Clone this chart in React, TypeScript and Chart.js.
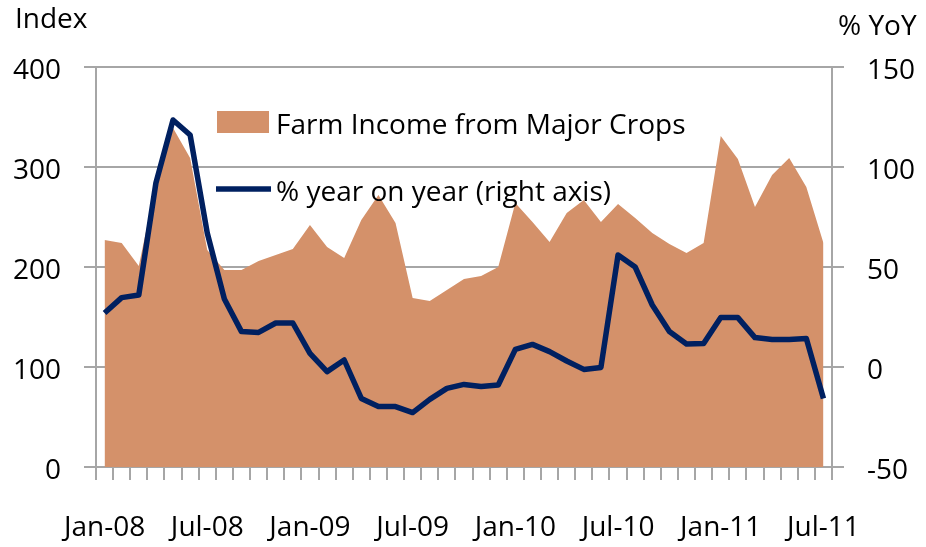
import React, { useEffect, useRef } from "react";
import { Chart, registerables } from "chart.js";

Chart.register(...registerables);

const months: string[] = [
  "Jan-08", "Feb-08", "Mar-08", "Apr-08", "May-08", "Jun-08", "Jul-08", "Aug-08", "Sep-08", "Oct-08", "Nov-08", "Dec-08",
  "Jan-09", "Feb-09", "Mar-09", "Apr-09", "May-09", "Jun-09", "Jul-09", "Aug-09", "Sep-09", "Oct-09", "Nov-09", "Dec-09",
  "Jan-10", "Feb-10", "Mar-10", "Apr-10", "May-10", "Jun-10", "Jul-10", "Aug-10", "Sep-10", "Oct-10", "Nov-10", "Dec-10",
  "Jan-11", "Feb-11", "Mar-11", "Apr-11", "May-11", "Jun-11", "Jul-11",
];

const farmIncome: number[] = [
  227, 224, 201, 283, 339, 309, 217, 197, 197, 206, 212, 218,
  242, 220, 209, 247, 272, 244, 169, 166, 177, 188, 191, 200,
  264, 245, 225, 254, 267, 245, 263, 249, 234, 223, 214, 224,
  331, 308, 260, 292, 309, 280, 224,
];

const yoyPct: number[] = [
  27, 34.7, 36, 92, 123.5, 116, 67, 34, 17.7, 17.3, 22, 22,
  6.8, -2.3, 3.5, -15.7, -19.8, -19.8, -22.8, -16.2, -10.7, -8.7, -9.8, -9,
  8.8, 11.3, 7.7, 3, -1.2, -0.2, 56, 50, 31, 17.7, 11.5, 11.8,
  24.7, 24.7, 14.7, 13.8, 13.8, 14.2, -15.7,
];

const leftTicks: number[] = [0, 100, 200, 300, 400];
const rightTicks: number[] = [-50, 0, 50, 100, 150];

const AREA_COLOR = "#D4916A";
const LINE_COLOR = "#002060";
const GRID_COLOR = "#a6a6a6";
const FONT = '"Open Sans", "Noto Sans", sans-serif';

const overlayPlugin = {
  id: "overlay",
  afterDraw(chart: any) {
    const ctx = chart.ctx as CanvasRenderingContext2D;
    ctx.save();
    ctx.fillStyle = "#000";
    ctx.font = `28px ${FONT}`;
    ctx.textBaseline = "alphabetic";
    ctx.textAlign = "left";
    ctx.fillText("Index", 15, 28);
    ctx.fillText("% YoY", 838, 35);
    // legend
    ctx.fillStyle = AREA_COLOR;
    ctx.fillRect(217, 111, 52, 22);
    ctx.fillStyle = "#000";
    ctx.fillText("Farm Income from Major Crops", 276, 134);
    ctx.strokeStyle = LINE_COLOR;
    ctx.lineWidth = 5.5;
    ctx.beginPath();
    ctx.moveTo(216, 189);
    ctx.lineTo(271, 189);
    ctx.stroke();
    ctx.fillText("% year on year (right axis)", 276, 201);
    ctx.restore();
  },
};

export default function App() {
  const ref = useRef<HTMLCanvasElement | null>(null);
  useEffect(() => {
    if (!ref.current) return;
    const chart = new Chart(ref.current, {
      type: "line",
      data: {
        labels: months,
        datasets: [
          {
            label: "% year on year (right axis)",
            data: yoyPct,
            yAxisID: "y1",
            borderColor: LINE_COLOR,
            borderWidth: 5.5,
            pointRadius: 0,
            tension: 0,
            fill: false,
            order: 0,
            borderJoinStyle: "round",
          },
          {
            label: "Farm Income from Major Crops",
            data: farmIncome,
            yAxisID: "y",
            borderWidth: 0,
            borderColor: AREA_COLOR,
            backgroundColor: AREA_COLOR,
            pointRadius: 0,
            tension: 0,
            fill: "origin",
            order: 1,
          },
        ],
      },
      options: {
        responsive: false,
        animation: false,
        devicePixelRatio: 1,
        layout: { padding: { top: 67, left: 0, right: 0, bottom: 0 } },
        plugins: { legend: { display: false }, tooltip: { enabled: false } },
        scales: {
          x: {
            type: "category",
            offset: true,
            grid: {
              offset: true,
              drawOnChartArea: false,
              drawTicks: true,
              tickLength: 13,
              color: GRID_COLOR,
              lineWidth: 2,
            },
            border: { display: true, color: GRID_COLOR, width: 2 },
            ticks: {
              autoSkip: false,
              maxRotation: 0,
              minRotation: 0,
              padding: 31,
              color: "#000",
              font: { family: FONT, size: 28 },
              callback: (_v: any, i: number) => (i % 6 === 0 ? months[i] : ""),
            },
            afterFit: (s: any) => {
              s.height = 80;
            },
          },
          y: {
            position: "left",
            min: 0,
            max: 400,
            afterBuildTicks: (s: any) => {
              s.ticks = leftTicks.map((v) => ({ value: v }));
            },
            grid: { color: GRID_COLOR, lineWidth: 2, tickLength: 12 },
            border: { display: true, color: GRID_COLOR, width: 2 },
            ticks: {
              padding: 23,
              labelOffset: 4,
              color: "#000",
              font: { family: FONT, size: 28 },
            },
            afterFit: (s: any) => {
              s.width = 96;
            },
          },
          y1: {
            position: "right",
            min: -50,
            max: 150,
            afterBuildTicks: (s: any) => {
              s.ticks = rightTicks.map((v) => ({ value: v }));
            },
            grid: { drawOnChartArea: false, color: GRID_COLOR, lineWidth: 2, tickLength: 12 },
            border: { display: true, color: GRID_COLOR, width: 2 },
            ticks: {
              padding: 23,
              labelOffset: 4,
              color: "#000",
              font: { family: FONT, size: 28 },
            },
            afterFit: (s: any) => {
              s.width = 94;
            },
          },
        },
      },
      plugins: [overlayPlugin],
    } as any);
    return () => chart.destroy();
  }, []);
  return (
    <div style={{ position: "fixed", left: 0, top: 0, width: 926, height: 547, background: "#fff" }}>
      <canvas ref={ref} width={926} height={547} style={{ display: "block" }} />
    </div>
  );
}
